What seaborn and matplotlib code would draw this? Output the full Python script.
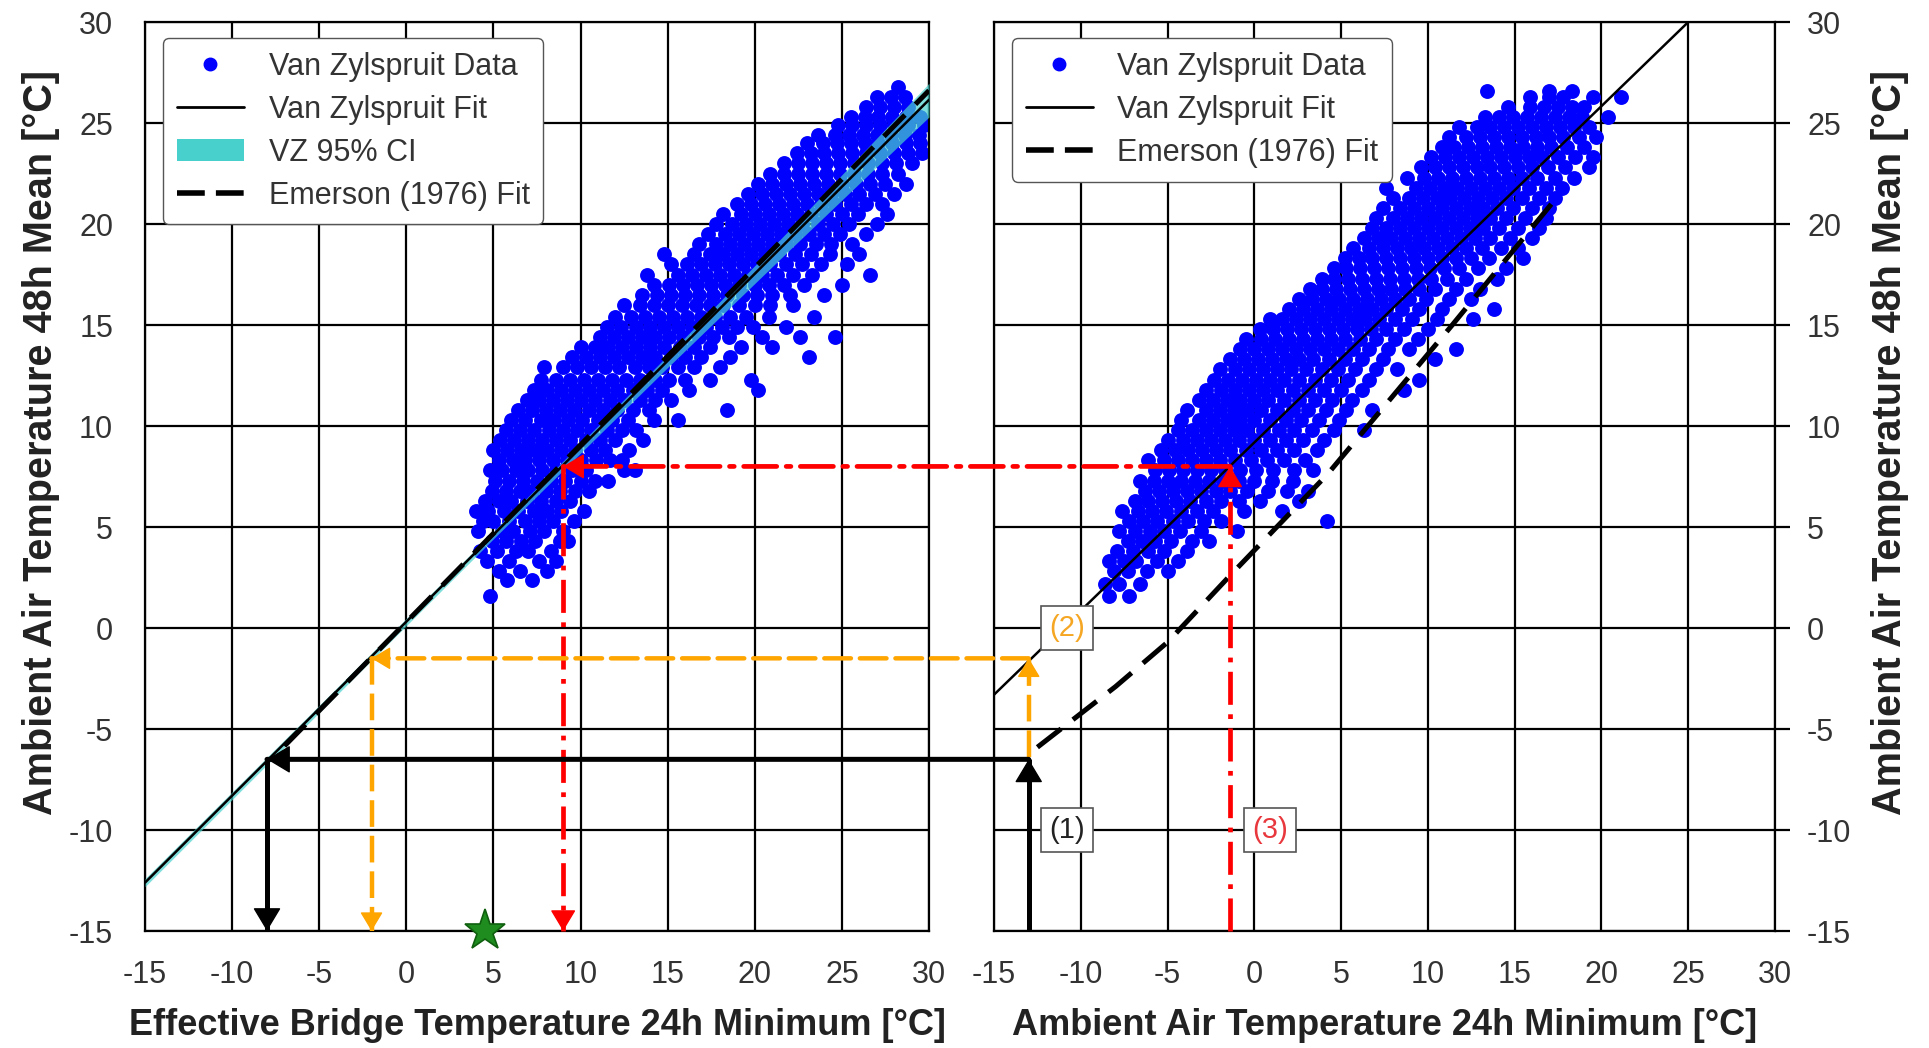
import matplotlib
matplotlib.use("Agg")
import matplotlib.pyplot as plt
import seaborn as sns
import pandas as pd
from matplotlib.patches import ConnectionPatch, Patch
from matplotlib.lines import Line2D

# ---------------- data ----------------
# Left panel cloud: rows of (air 48h mean, [bridge 24h min values])
left_cloud = [
    (1.6, [4.8]),
    (2.4, [5.8, 7.2]),
    (2.8, [5.3, 6.5, 8.1]),
    (3.3, [4.6, 5.9, 7.6, 8.6]),
    (3.8, [4.2, 5.2, 6.3, 7.0, 8.3]),
    (4.3, [4.9, 5.7, 6.6, 7.4, 8.8, 9.3]),
    (4.8, [4.1, 5.5, 6.1, 7.1, 7.9, 9.0]),
    (5.3, [4.4, 5.0, 5.9, 6.8, 7.6, 8.4, 9.6]),
    (5.8, [4.0, 4.7, 5.6, 6.4, 7.3, 8.1, 8.9, 10.2]),
    (6.3, [4.5, 5.3, 6.0, 6.9, 7.7, 8.6, 9.4]),
    (6.8, [4.9, 5.7, 6.5, 7.2, 8.0, 8.8, 9.7, 10.5]),
    (7.3, [5.1, 5.9, 6.7, 7.5, 8.3, 9.1, 10.0, 10.8, 11.6]),
    (7.8, [4.8, 5.5, 6.3, 7.0, 7.8, 8.6, 9.5, 10.3, 12.5, 13.1]),
    (8.3, [5.3, 6.1, 6.8, 7.6, 8.4, 9.2, 10.0, 10.9, 11.7, 12.4]),
    (8.8, [5.0, 5.8, 6.6, 7.3, 8.1, 8.9, 9.7, 10.6, 11.4, 12.8]),
    (9.3, [5.4, 6.2, 7.0, 7.8, 8.6, 9.4, 10.3, 11.1, 12.0, 13.6]),
    (9.8, [5.7, 6.5, 7.3, 8.2, 9.0, 9.8, 10.6, 11.5, 12.4, 13.2]),
    (10.3, [6.0, 6.8, 7.7, 8.5, 9.3, 10.1, 11.0, 11.8, 12.7, 14.2, 15.6]),
    (10.8, [6.4, 7.2, 8.0, 8.8, 9.6, 10.5, 11.3, 12.1, 13.0, 13.9, 18.4]),
    (11.3, [6.9, 7.6, 8.4, 9.2, 10.0, 10.8, 11.7, 12.5, 13.4, 14.3, 15.2]),
    (11.8, [7.3, 8.1, 8.9, 9.7, 10.5, 11.3, 12.1, 13.0, 13.8, 14.7, 16.2, 20.2]),
    (12.3, [7.7, 8.6, 9.4, 10.2, 11.0, 11.8, 12.6, 13.4, 14.3, 15.1, 16.0, 17.4, 19.8]),
    (12.9, [7.9, 9.0, 9.8, 10.6, 11.4, 12.2, 13.1, 13.9, 14.7, 15.6, 16.5, 18.0]),
    (13.4, [9.5, 10.3, 11.1, 11.9, 12.7, 13.5, 14.3, 15.2, 16.0, 16.9, 18.6, 23.1]),
    (13.9, [10.0, 10.8, 11.6, 12.4, 13.2, 14.0, 14.8, 15.7, 16.5, 17.4, 19.2, 21.0]),
    (14.4, [11.1, 11.9, 12.7, 13.5, 14.3, 15.1, 15.9, 16.8, 17.6, 18.5, 20.4, 22.6, 24.6]),
    (14.9, [11.5, 12.3, 13.2, 14.0, 14.8, 15.6, 16.4, 17.2, 18.1, 19.0, 19.9, 21.8]),
    (15.4, [12.0, 12.9, 13.7, 14.5, 15.3, 16.1, 16.9, 17.7, 18.6, 19.5, 20.8, 23.4]),
    (16.0, [12.5, 13.4, 14.2, 15.0, 15.8, 16.6, 17.4, 18.2, 19.1, 20.0, 20.9, 22.2]),
    (16.5, [13.5, 14.4, 15.2, 16.0, 16.8, 17.6, 18.4, 19.3, 20.1, 21.0, 22.0, 24.0]),
    (17.0, [14.2, 15.1, 15.9, 16.7, 17.5, 18.3, 19.1, 20.0, 20.8, 21.7, 22.8, 25.0]),
    (17.5, [13.8, 15.6, 16.4, 17.2, 18.0, 18.8, 19.6, 20.4, 21.3, 22.2, 23.3, 26.6]),
    (18.0, [15.2, 16.1, 16.9, 17.7, 18.5, 19.3, 20.1, 20.9, 21.8, 22.7, 23.8, 25.3]),
    (18.5, [14.8, 16.5, 17.4, 18.2, 19.0, 19.8, 20.6, 21.4, 22.3, 23.2, 24.3, 26.0]),
    (19.0, [16.8, 17.8, 18.6, 19.4, 20.2, 21.0, 21.8, 22.6, 23.5, 24.4, 25.6]),
    (19.5, [17.3, 18.3, 19.1, 19.9, 20.7, 21.5, 22.3, 23.1, 24.0, 24.9, 26.4]),
    (20.0, [17.8, 18.7, 19.5, 20.3, 21.1, 21.9, 22.7, 23.6, 24.5, 25.4, 27.0]),
    (20.5, [18.2, 19.2, 20.0, 20.8, 21.6, 22.4, 23.2, 24.1, 25.0, 25.9, 27.6]),
    (21.0, [19.0, 19.8, 20.6, 21.4, 22.2, 23.0, 23.8, 24.6, 25.5, 26.4, 27.3]),
    (21.5, [19.6, 20.4, 21.2, 22.0, 22.8, 23.6, 24.4, 25.2, 26.0, 26.9, 28.0]),
    (22.0, [20.2, 21.0, 21.8, 22.6, 23.4, 24.2, 25.0, 25.8, 26.6, 27.5, 28.7]),
    (22.5, [20.9, 21.7, 22.5, 23.3, 24.1, 24.9, 25.7, 26.5, 27.3, 28.2]),
    (23.0, [21.7, 22.5, 23.3, 24.1, 24.9, 25.7, 26.5, 27.3, 28.1, 29.0]),
    (23.5, [22.4, 23.2, 24.0, 24.8, 25.6, 26.4, 27.2, 28.0, 28.8, 29.6]),
    (24.0, [23.0, 23.9, 24.7, 25.5, 26.3, 27.1, 27.9, 28.7, 29.5]),
    (24.4, [23.6, 24.6, 25.4, 26.2, 27.0, 27.8, 28.6, 29.4]),
    (24.9, [24.8, 25.6, 26.4, 27.2, 28.0, 28.8, 29.7]),
    (25.3, [25.5, 26.3, 27.1, 27.9, 28.7, 29.5]),
    (25.8, [26.4, 27.2, 28.0, 28.8]),
    (26.3, [27.0, 27.8, 28.6]),
    (26.8, [28.2]),
]

# Right panel cloud: rows of (air 48h mean, [air 24h min values])
right_cloud = [
    (1.6, [-8.4, -7.2]),
    (2.2, [-8.6, -7.8, -6.6]),
    (2.8, [-8.1, -7.3, -6.2, -5.0]),
    (3.3, [-8.4, -7.5, -6.8, -5.6, -4.4]),
    (3.8, [-7.9, -7.0, -6.1, -5.2, -3.9]),
    (4.3, [-7.3, -6.5, -5.7, -4.8, -3.6, -2.6]),
    (4.8, [-7.8, -6.9, -6.0, -5.2, -4.3, -3.1, -1.0]),
    (5.3, [-7.2, -6.4, -5.6, -4.7, -3.8, -2.9, -1.9, 4.2]),
    (5.8, [-7.6, -6.7, -5.9, -5.1, -4.2, -3.3, -2.4, -0.6, 1.6]),
    (6.3, [-6.9, -6.1, -5.3, -4.5, -3.7, -2.8, -1.9, -0.9, 0.3, 2.6]),
    (6.8, [-6.3, -5.5, -4.7, -3.9, -3.1, -2.2, -1.4, -0.4, 0.8, 1.9, 3.1]),
    (7.3, [-6.6, -5.8, -5.0, -4.2, -3.4, -2.6, -1.8, -0.9, 0.0, 1.0, 2.2]),
    (7.8, [-5.7, -4.9, -4.1, -3.3, -2.5, -1.7, -0.8, 0.1, 1.1, 2.3, 3.4]),
    (8.3, [-6.1, -5.2, -4.4, -3.6, -2.8, -2.0, -1.1, -0.2, 0.7, 1.7, 2.9]),
    (8.8, [-5.4, -4.6, -3.8, -3.0, -2.2, -1.4, -0.5, 0.4, 1.3, 2.3, 3.6]),
    (9.3, [-5.0, -4.1, -3.3, -2.5, -1.7, -0.9, 0.0, 0.9, 1.8, 2.8, 4.0]),
    (9.8, [-4.4, -3.6, -2.8, -2.0, -1.2, -0.4, 0.5, 1.4, 2.3, 3.3, 4.6, 6.3]),
    (10.3, [-4.2, -3.2, -2.4, -1.6, -0.8, 0.0, 0.9, 1.8, 2.7, 3.7, 4.9]),
    (10.8, [-3.9, -2.8, -2.0, -1.2, -0.4, 0.4, 1.3, 2.2, 3.1, 4.1, 5.3, 6.8]),
    (11.3, [-3.2, -2.4, -1.6, -0.8, 0.0, 0.8, 1.7, 2.6, 3.5, 4.5, 5.6]),
    (11.8, [-2.8, -1.9, -1.1, -0.3, 0.5, 1.3, 2.2, 3.1, 4.0, 5.0, 6.2, 8.6]),
    (12.3, [-2.3, -1.5, -0.7, 0.1, 0.9, 1.7, 2.6, 3.5, 4.4, 5.4, 6.6, 9.5]),
    (12.8, [-2.0, -1.1, -0.3, 0.5, 1.3, 2.1, 3.0, 3.9, 4.8, 5.8, 7.0, 8.2]),
    (13.3, [-1.4, -0.6, 0.2, 1.0, 1.8, 2.6, 3.4, 4.3, 5.2, 6.2, 7.4, 10.4]),
    (13.8, [-0.8, 0.0, 0.8, 1.6, 2.4, 3.2, 4.0, 4.8, 5.7, 6.6, 7.7, 8.9, 11.6]),
    (14.3, [-0.5, 0.4, 1.2, 2.0, 2.8, 3.6, 4.4, 5.2, 6.1, 7.0, 8.1, 9.4]),
    (14.8, [0.3, 1.1, 1.9, 2.7, 3.5, 4.3, 5.1, 5.9, 6.7, 7.6, 8.6, 10.0]),
    (15.3, [0.9, 1.6, 2.4, 3.2, 4.0, 4.8, 5.6, 6.4, 7.2, 8.1, 9.1, 10.5, 12.6]),
    (15.8, [2.0, 2.8, 3.6, 4.4, 5.2, 6.0, 6.8, 7.6, 8.5, 9.5, 10.8, 13.8]),
    (16.3, [2.6, 3.3, 4.1, 4.9, 5.7, 6.5, 7.3, 8.1, 8.9, 9.9, 11.2, 12.5]),
    (16.8, [3.2, 3.9, 4.7, 5.5, 6.3, 7.1, 7.9, 8.7, 9.5, 10.4, 11.6, 13.0]),
    (17.3, [3.9, 4.6, 5.4, 6.2, 7.0, 7.8, 8.6, 9.4, 10.2, 11.1, 12.2, 14.0]),
    (17.8, [4.6, 5.3, 6.1, 6.9, 7.7, 8.5, 9.3, 10.1, 10.9, 11.8, 12.9, 14.5]),
    (18.3, [5.2, 6.0, 6.8, 7.6, 8.4, 9.2, 10.0, 10.8, 11.6, 12.5, 13.5, 15.5]),
    (18.8, [5.7, 6.6, 7.4, 8.2, 9.0, 9.8, 10.6, 11.4, 12.2, 13.1, 14.2, 15.2]),
    (19.3, [6.3, 7.1, 7.9, 8.7, 9.5, 10.3, 11.1, 11.9, 12.7, 13.6, 14.7, 16.0]),
    (19.8, [6.8, 7.6, 8.4, 9.2, 10.0, 10.8, 11.6, 12.4, 13.2, 14.1, 15.2, 16.4]),
    (20.3, [7.0, 8.0, 8.8, 9.6, 10.4, 11.2, 12.0, 12.8, 13.6, 14.5, 15.6, 16.8]),
    (20.8, [7.4, 8.4, 9.2, 10.0, 10.8, 11.6, 12.4, 13.2, 14.0, 14.9, 16.0, 17.0]),
    (21.3, [8.0, 8.9, 9.7, 10.5, 11.3, 12.1, 12.9, 13.7, 14.5, 15.4, 16.4, 17.3]),
    (21.8, [7.6, 9.3, 10.1, 10.9, 11.7, 12.5, 13.3, 14.1, 14.9, 15.8, 16.8, 17.7]),
    (22.3, [8.8, 9.8, 10.6, 11.4, 12.2, 13.0, 13.8, 14.6, 15.4, 16.3, 17.3, 18.4]),
    (22.8, [9.6, 10.4, 11.2, 12.0, 12.8, 13.6, 14.4, 15.2, 16.0, 16.9, 17.9, 19.3]),
    (23.3, [10.2, 11.0, 11.8, 12.6, 13.4, 14.2, 15.0, 15.8, 16.6, 17.5, 18.5, 19.5]),
    (23.8, [10.8, 11.5, 12.3, 13.1, 13.9, 14.7, 15.5, 16.3, 17.1, 18.0, 19.0]),
    (24.3, [11.2, 12.2, 13.0, 13.8, 14.6, 15.4, 16.2, 17.0, 17.8, 18.7, 19.7]),
    (24.8, [11.8, 12.8, 13.6, 14.4, 15.2, 16.0, 16.8, 17.6, 18.4, 19.3]),
    (25.3, [13.3, 14.1, 14.9, 15.7, 16.5, 17.3, 18.1, 18.9, 20.4]),
    (25.8, [14.6, 15.9, 16.7, 17.5, 18.3, 19.0]),
    (26.3, [15.9, 17.0, 17.8, 19.5, 21.1]),
    (26.6, [13.4, 17.0, 18.3]),
]

# Fit lines
vz_left_x = [-15, 30]
vz_left_y = [-12.6, 26.15]
ci_x = [-15, -5, 5, 15, 22, 30]
ci_lower = [-12.8, -4.18, 4.42, 12.9, 18.72, 25.3]
ci_upper = [-12.4, -3.82, 4.78, 13.5, 19.72, 26.97]
em_left_x = [-7, 30]
em_left_y = [-5.84, 26.61]
vz_right_x = [-15, 25]
vz_right_y = [-3.3, 30]
em_right_x = [-12.5, -8, -5, -1.4, 4.2, 11.4, 17.6]
em_right_y = [-5.9, -2.9, -0.7, 2.6, 7.6, 15.0, 21.5]

# Worked examples (1), (2), (3)
case_labels = ["(1)", "(2)", "(3)"]
case_air_min = [-13, -13, -1.4]
case_start_mean = [-15, -6.4, -15]
case_air_mean = [-6.5, -1.5, 8.0]
case_bridge_min = [-8, -2, 9]
case_label_x = [-10.8, -10.8, 0.9]
case_label_y = [-10, 0, -10]
star_x, star_y = 4.5, -15

ticks = list(range(-15, 31, 5))

# ---------------- styling ----------------
sns.set_theme(style="white")
plt.rcParams["font.family"] = ["Liberation Sans", "DejaVu Sans"]
plt.rcParams["axes.unicode_minus"] = False

TXT = "#333333"
case_colors = ["black", "#FFA500", "#FF0000"]
case_text_colors = ["#222222", "#F5A623", "#E8383D"]
case_ls = ["-", (0, (6, 2)), (0, (7, 2, 1, 2))]
case_lw = [3.6, 3.2, 3.4]
case_ms = [20, 16, 18]

left_df = pd.DataFrame([(x, y) for y, xs in left_cloud for x in xs], columns=["x", "y"])
right_df = pd.DataFrame([(x, y) for y, xs in right_cloud for x in xs], columns=["x", "y"])

fig = plt.figure(figsize=(19.29, 10.48), dpi=100)
ax_l = fig.add_axes([0.0752, 0.1116, 0.4064, 0.8674])
ax_r = fig.add_axes([0.5153, 0.1116, 0.4049, 0.8674])

for ax in (ax_l, ax_r):
    ax.set_xlim(-15, 30)
    ax.set_ylim(-15, 30)
    ax.set_xticks(ticks)
    ax.set_yticks(ticks)
    ax.set_axisbelow(True)
    ax.grid(True, color="black", lw=1.6)
    for sp in ax.spines.values():
        sp.set_visible(True)
        sp.set_color("black")
        sp.set_linewidth(1.6)
    ax.tick_params(axis="both", direction="out", length=11, width=1.6,
                   labelsize=22, labelcolor=TXT, color="black")
    ax.tick_params(axis="x", pad=9.5)
    ax.tick_params(axis="y", pad=12)

# scatter
sns.scatterplot(data=left_df, x="x", y="y", ax=ax_l, color="#0000FF", s=115,
                linewidth=0, zorder=2, legend=False)
sns.scatterplot(data=right_df, x="x", y="y", ax=ax_r, color="#0000FF", s=115,
                linewidth=0, zorder=2, legend=False)

# CI band and fits
ax_l.fill_between(ci_x, ci_lower, ci_upper, color="#48D1CC", alpha=0.7, lw=0, zorder=3)
sns.lineplot(x=vz_left_x, y=vz_left_y, ax=ax_l, color="black", lw=1.8, zorder=4,
             sort=False, estimator=None)
sns.lineplot(x=em_left_x, y=em_left_y, ax=ax_l, color="black", lw=3.6, zorder=5,
             sort=False, estimator=None, linestyle=(0, (6, 3)))
sns.lineplot(x=vz_right_x, y=vz_right_y, ax=ax_r, color="black", lw=1.8, zorder=4,
             sort=False, estimator=None)
sns.lineplot(x=em_right_x, y=em_right_y, ax=ax_r, color="black", lw=3.6, zorder=5,
             sort=False, estimator=None, linestyle=(0, (6, 3)))


def head(ax, x, y, dx, dy, color, scale):
    L = 0.75 * scale + 1
    ax.annotate("", xy=(x, y), xytext=(dx * L, dy * L), textcoords="offset points",
                arrowprops=dict(arrowstyle="-|>,head_length=0.75,head_width=0.45",
                                color=color, lw=1, mutation_scale=scale,
                                shrinkA=0, shrinkB=0),
                annotation_clip=False, zorder=9)


for i in range(3):
    c = case_colors[i]
    xa, y0, ym, xb = case_air_min[i], case_start_mean[i], case_air_mean[i], case_bridge_min[i]
    # vertical in right panel (upwards)
    ax_r.plot([xa, xa], [y0, ym], color=c, lw=case_lw[i], ls=case_ls[i],
              clip_on=False, zorder=7, solid_capstyle="butt")
    head(ax_r, xa, ym, 0, -1, c, case_ms[i])
    # horizontal across panels
    con = ConnectionPatch(xyA=(xa, ym), coordsA=ax_r.transData,
                          xyB=(xb, ym), coordsB=ax_l.transData,
                          arrowstyle="-", color=c, lw=case_lw[i], linestyle=case_ls[i],
                          shrinkA=0, shrinkB=0, zorder=7)
    fig.add_artist(con)
    head(ax_l, xb, ym, 1, 0, c, case_ms[i])
    # vertical in left panel (downwards)
    ax_l.plot([xb, xb], [ym, -15], color=c, lw=case_lw[i], ls=case_ls[i],
              clip_on=False, zorder=7, solid_capstyle="butt")
    head(ax_l, xb, -15, 0, 1, c, case_ms[i])
    ax_r.text(case_label_x[i], case_label_y[i], case_labels[i], ha="center", va="center",
              fontsize=21, color=case_text_colors[i], zorder=10,
              bbox=dict(boxstyle="square,pad=0.28", fc="white", ec="#555555", lw=1.2))

ax_l.plot([star_x], [star_y], marker="*", ms=31, color="#1E8C1E", mec="#0F5F0F",
          mew=1.2, clip_on=False, zorder=10, ls="none")

# labels
ax_l.set_xlabel("Effective Bridge Temperature 24h Minimum [°C]", fontsize=26,
                fontweight="bold", color="#222222", labelpad=13)
ax_l.set_ylabel("Ambient Air Temperature 48h Mean [°C]", fontsize=28.5,
                fontweight="bold", color="#222222", labelpad=6.5)
ax_r.set_xlabel("Ambient Air Temperature 24h Minimum [°C]", fontsize=26,
                fontweight="bold", color="#222222", labelpad=13)
ax_r.yaxis.tick_right()
ax_r.yaxis.set_label_position("right")
ax_r.set_ylabel("Ambient Air Temperature 48h Mean [°C]", fontsize=28.5,
                fontweight="bold", color="#222222", labelpad=14)
ax_l.yaxis.label.set_y(0.537)
ax_r.yaxis.label.set_y(0.537)

# legends
h_data = Line2D([], [], marker="o", ls="none", color="#0000FF", ms=9)
h_fit = Line2D([], [], color="black", lw=2)
h_ci = Patch(facecolor="#48D1CC", edgecolor="none")
h_em = Line2D([], [], color="black", lw=4, ls=(0, (5, 2)))
leg_kw = dict(loc="upper left", bbox_to_anchor=(0.023, 0.982), borderaxespad=0,
              fontsize=22, frameon=True, fancybox=True, framealpha=1,
              edgecolor="#555555", handlelength=2.2, handletextpad=0.8,
              labelspacing=0.42, borderpad=0.45, labelcolor=TXT)
lg = ax_l.legend([h_data, h_fit, h_ci, h_em],
                 ["Van Zylspruit Data", "Van Zylspruit Fit", "VZ 95% CI", "Emerson (1976) Fit"],
                 **leg_kw)
lg.set_zorder(20)
lg2 = ax_r.legend([h_data, h_fit, h_em],
                  ["Van Zylspruit Data", "Van Zylspruit Fit", "Emerson (1976) Fit"],
                  **leg_kw)
lg2.set_zorder(20)

fig.savefig("out.png", dpi=100)
